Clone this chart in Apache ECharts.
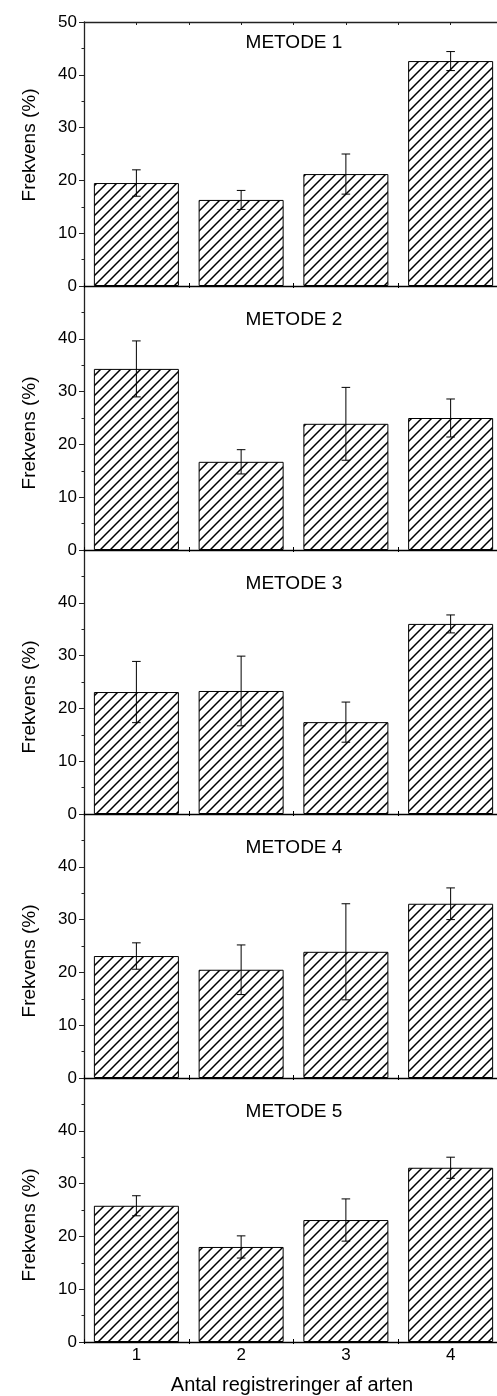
<!DOCTYPE html>
<html>
<head>
<meta charset="utf-8">
<script src="https://cdn.jsdelivr.net/npm/echarts@6/dist/echarts.min.js"></script>
<style>
html,body{margin:0;padding:0;background:#fff;overflow:hidden;}
#chart{width:504px;height:1396px;}
</style>
</head>
<body>
<div id="chart"></div>
<script>
// ---- data ----
const categories = ['1', '2', '3', '4'];
const panelTitles = ['METODE 1', 'METODE 2', 'METODE 3', 'METODE 4', 'METODE 5'];
const yAxisName = 'Frekvens (%)';
const xAxisName = 'Antal registreringer af arten';
const yTicks = [0, 10, 20, 30, 40, 50];

const metode1Mean = [19.5, 16.3, 21.2, 42.6];
const metode1Err  = [2.5, 1.8, 3.8, 1.8];
const metode2Mean = [34.3, 16.7, 23.9, 25.0];
const metode2Err  = [5.3, 2.3, 6.9, 3.6];
const metode3Mean = [23.1, 23.3, 17.4, 36.0];
const metode3Err  = [5.8, 6.6, 3.8, 1.7];
const metode4Mean = [23.1, 20.5, 23.9, 33.0];
const metode4Err  = [2.5, 4.7, 9.1, 3.0];
const metode5Mean = [25.8, 18.0, 23.1, 33.0];
const metode5Err  = [1.9, 2.1, 4.0, 2.0];

const means = [metode1Mean, metode2Mean, metode3Mean, metode4Mean, metode5Mean];
const errs = [metode1Err, metode2Err, metode3Err, metode4Err, metode5Err];

// ---- style / layout ----
const FONT = "'Liberation Sans', Arial, Helvetica, sans-serif";
const PANEL_TOP = 22, PANEL_H = 264, GRID_LEFT = 84, GRID_W = 419;
const titleY = [43, 320, 584, 848, 1112];
const yNameY = [145, 433, 697, 961, 1225];

// hatch pattern
const T = 10;
const tile = document.createElement('canvas');
tile.width = T; tile.height = T;
(function () {
  const c = tile.getContext('2d');
  c.fillStyle = '#fff';
  c.fillRect(0, 0, T, T);
  c.strokeStyle = '#000';
  c.lineWidth = 1.5;
  c.beginPath();
  c.moveTo(-3, T + 3); c.lineTo(T + 3, -3);
  c.moveTo(-3, 3); c.lineTo(3, -3);
  c.moveTo(T - 3, T + 3); c.lineTo(T + 3, T - 3);
  c.stroke();
})();

const grids = [], xAxes = [], yAxes = [], series = [], graphics = [];

for (let i = 0; i < 5; i++) {
  grids.push({ left: GRID_LEFT, width: GRID_W, top: PANEL_TOP + PANEL_H * i, height: PANEL_H, containLabel: false });
  const last = i === 4;
  xAxes.push({
    type: 'category', gridIndex: i, data: categories, position: 'bottom',
    axisLine: { show: true, onZero: false, lineStyle: { color: '#000', width: 1.3 } },
    axisTick: { show: true, inside: true, length: 3, lineStyle: { color: '#000' } },
    axisLabel: { show: last, color: '#000', fontSize: 17, fontFamily: FONT, margin: 5 },
    splitLine: { show: false }
  });
  xAxes.push({
    type: 'category', gridIndex: i, data: categories, position: 'bottom',
    axisLine: { show: false },
    axisTick: { show: true, inside: false, length: 2, lineStyle: { color: '#000' } },
    axisLabel: { show: false },
    splitLine: { show: false }
  });
  yAxes.push({
    type: 'value', gridIndex: i, min: 0, max: 50, interval: 10,
    axisLine: { show: true, lineStyle: { color: '#222', width: 1.3 } },
    axisTick: { show: true, inside: false, length: 5, lineStyle: { color: '#222' } },
    minorTick: { show: true, splitNumber: 2, length: 2.5, lineStyle: { color: '#222' } },
    axisLabel: {
      color: '#000', fontSize: 17, fontFamily: FONT, margin: 7,
      formatter: (v) => (i > 0 && v === 50) ? '' : String(v)
    },
    splitLine: { show: false }
  });
}
xAxes.push({
  type: 'value', gridIndex: 0, position: 'top', min: 0.5, max: 4.5, interval: 0.5,
  axisLine: { show: true, lineStyle: { color: '#222', width: 1.3 } },
  axisTick: { show: true, inside: true, length: 3, lineStyle: { color: '#222' } },
  axisLabel: { show: false },
  splitLine: { show: false }
});

for (let i = 0; i < 5; i++) {
  series.push({
    type: 'bar', xAxisIndex: 2 * i, yAxisIndex: i,
    data: means[i], barWidth: 85,
    itemStyle: { color: { image: tile, repeat: 'repeat' }, borderColor: '#000', borderWidth: 1 },
    silent: true, animation: false
  });
  series.push({
    type: 'custom', xAxisIndex: 2 * i, yAxisIndex: i, z: 5,
    data: means[i].map((m, j) => [j, m, errs[i][j]]),
    renderItem: function (params, api) {
      const x = api.value(0), m = api.value(1), e = api.value(2);
      const hi = api.coord([x, m + e]);
      const lo = api.coord([x, m - e]);
      const cw = 4.3;
      const st = { stroke: '#000', lineWidth: 1 };
      return {
        type: 'group', children: [
          { type: 'line', shape: { x1: hi[0], y1: hi[1], x2: lo[0], y2: lo[1] }, style: st },
          { type: 'line', shape: { x1: hi[0] - cw, y1: hi[1], x2: hi[0] + cw, y2: hi[1] }, style: st },
          { type: 'line', shape: { x1: lo[0] - cw, y1: lo[1], x2: lo[0] + cw, y2: lo[1] }, style: st }
        ]
      };
    },
    silent: true, animation: false
  });
  graphics.push({
    type: 'text', x: 294, y: titleY[i],
    style: { text: panelTitles[i], fill: '#000', font: '19px ' + FONT, textAlign: 'center', textVerticalAlign: 'middle' }
  });
  graphics.push({
    type: 'text', x: 30, y: yNameY[i], rotation: Math.PI / 2,
    style: { text: yAxisName, fill: '#000', font: '19px ' + FONT, textAlign: 'center', textVerticalAlign: 'middle' }
  });
}
graphics.push({
  type: 'text', x: 292, y: 1385,
  style: { text: xAxisName, fill: '#000', font: '20px ' + FONT, textAlign: 'center', textVerticalAlign: 'middle' }
});

const chart = echarts.init(document.getElementById('chart'), null, { renderer: 'canvas' });
chart.setOption({
  backgroundColor: '#fff',
  animation: false,
  grid: grids,
  xAxis: xAxes,
  yAxis: yAxes,
  series: series,
  graphic: graphics
});
</script>
</body>
</html>
